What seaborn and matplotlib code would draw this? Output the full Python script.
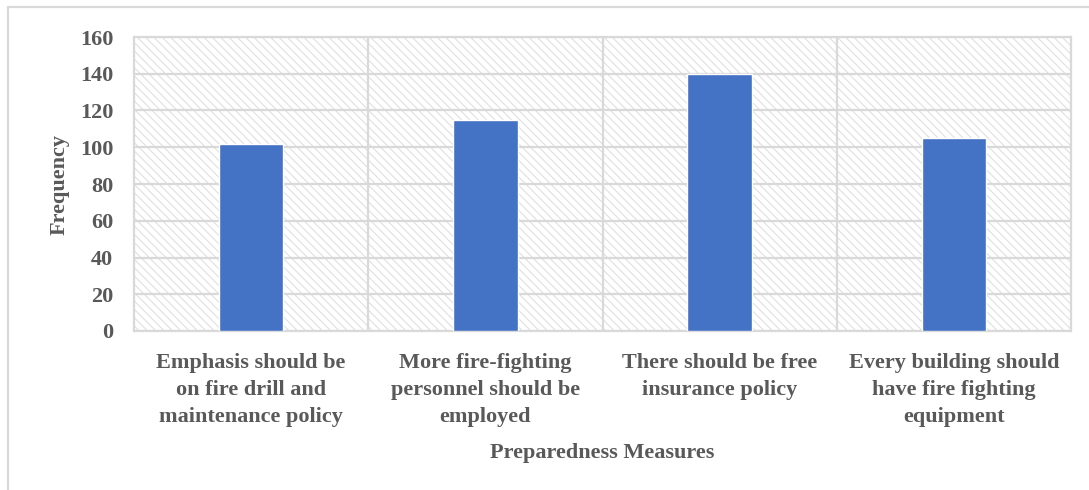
import matplotlib
matplotlib.use("Agg")
import matplotlib.pyplot as plt
import seaborn as sns
import pandas as pd
from matplotlib.lines import Line2D

# Survey results: preparedness measures and how often each was chosen
categories = [
    "Emphasis should be\non fire drill and\nmaintenance policy",
    "More fire-fighting\npersonnel should be\nemployed",
    "There should be free\ninsurance policy",
    "Every building should\nhave fire fighting\nequipment",
]
frequency = [102, 115, 140, 105]
y_ticks = [0, 20, 40, 60, 80, 100, 120, 140, 160]

sns.set_theme(style="white")
plt.rcParams["font.family"] = ["Liberation Serif", "DejaVu Serif"]
plt.rcParams["font.weight"] = "bold"
plt.rcParams["hatch.linewidth"] = 0.7
plt.rcParams["hatch.color"] = "#dcdcdc"

text_color = "#595959"
grid_color = "#d9d9d9"
bar_color = "#4472C4"

fig = plt.figure(figsize=(10.89, 4.90), dpi=100)
fig.patch.set_facecolor("white")
ax = fig.add_axes([134 / 1089, 1 - 331 / 490, (1071 - 134) / 1089, (331 - 37) / 490])

# hatched plot-area background
ax.patch.set_facecolor("white")
ax.patch.set_hatch("\\\\\\\\")
ax.patch.set_edgecolor("#dcdcdc")
ax.patch.set_linewidth(0)

df = pd.DataFrame({"measure": categories, "frequency": frequency})
sns.barplot(data=df, x="measure", y="frequency", color=bar_color,
            width=0.275, saturation=1, ax=ax, zorder=3)

ax.set_ylim(0, 160)
ax.set_xlim(-0.5, len(categories) - 0.5)
ax.set_yticks(y_ticks)
ax.set_xticks(range(len(categories)))
ax.set_xticklabels(categories, fontsize=16, fontweight="bold", color=text_color,
                   linespacing=1.45)
ax.set_yticklabels([str(t) for t in y_ticks], fontsize=16, fontweight="bold",
                   color=text_color)
ax.set_xticks([i + 0.5 for i in range(len(categories) - 1)], minor=True)
ax.tick_params(axis="both", which="both", length=0)
ax.tick_params(axis="y", pad=15)
ax.tick_params(axis="x", pad=16)

ax.grid(True, axis="y", which="major", color=grid_color, linewidth=1.6, zorder=1)
ax.grid(True, axis="x", which="minor", color=grid_color, linewidth=1.6, zorder=1)
ax.grid(False, axis="x", which="major")
ax.set_axisbelow(True)
for s in ax.spines.values():
    s.set_visible(True)
    s.set_color(grid_color)
    s.set_linewidth(1.6)

ax.set_xlabel("Preparedness Measures", fontsize=16, fontweight="bold",
              color=text_color, labelpad=12)
ax.set_ylabel("Frequency", fontsize=16, fontweight="bold", color=text_color,
              labelpad=7)

# outer chart frame
fig.add_artist(Line2D([8 / 1089, 1.0], [1 - 7 / 490, 1 - 7 / 490],
                      transform=fig.transFigure, color=grid_color, linewidth=1.6))
fig.add_artist(Line2D([8 / 1089, 8 / 1089], [0.0, 1 - 7 / 490],
                      transform=fig.transFigure, color=grid_color, linewidth=1.6))

fig.savefig("out.png", dpi=100, facecolor="white")
